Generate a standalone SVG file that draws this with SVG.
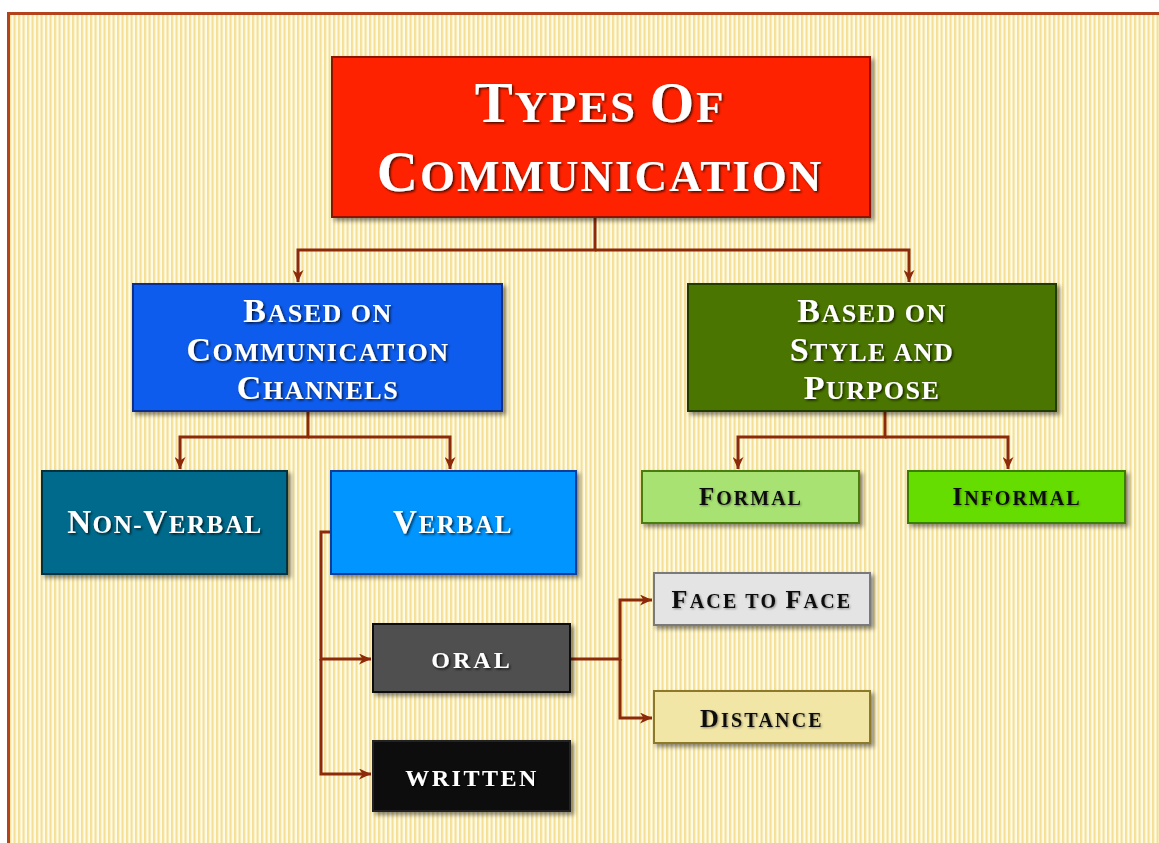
<svg xmlns="http://www.w3.org/2000/svg" width="1159" height="843" viewBox="0 0 1159 843">
<defs>
<pattern id="stripes" x="0" y="0" width="4.5" height="10" patternUnits="userSpaceOnUse">
<rect width="4.5" height="10" fill="#fffbe6"/>
<rect x="0" width="2.2" height="10" fill="#f3e096"/>
</pattern>
<filter id="bshadow" x="-10%" y="-10%" width="130%" height="140%">
<feDropShadow dx="3" dy="3" stdDeviation="2" flood-color="#000" flood-opacity="0.45"/>
</filter>
<filter id="tshadow" x="-5%" y="-20%" width="115%" height="150%">
<feDropShadow dx="1.5" dy="1.5" stdDeviation="1" flood-color="#000" flood-opacity="0.75"/>
</filter>
<filter id="tshadowl" x="-5%" y="-20%" width="115%" height="150%">
<feDropShadow dx="1" dy="1" stdDeviation="0.8" flood-color="#000" flood-opacity="0.4"/>
</filter>
<marker id="arr" markerWidth="13" markerHeight="11" refX="12" refY="5.5" orient="auto" markerUnits="userSpaceOnUse">
<path d="M0,0 L12,5.5 L0,11 L3.5,5.5 z" fill="#8c2a0a"/>
</marker>
<style>
.box{filter:url(#bshadow);stroke-width:2}
.t{font-family:"Liberation Serif","DejaVu Serif",serif;font-weight:bold;text-anchor:middle}
.w{fill:#fff;filter:url(#tshadow)}
.k{fill:#111;filter:url(#tshadowl)}
.c{fill:none;stroke:#8c2a0a;stroke-width:3}
</style>
</defs>
<rect width="1159" height="843" fill="#fff"/>
<rect x="8.5" y="13.5" width="1200" height="900" fill="url(#stripes)" stroke="#b3431a" stroke-width="3"/>

<g id="connectors">
<path class="c" d="M595,217 V250 H298 V282" marker-end="url(#arr)"/>
<path class="c" d="M595,250 H909 V282" marker-end="url(#arr)"/>
<path class="c" d="M308,411 V437 H180 V469" marker-end="url(#arr)"/>
<path class="c" d="M308,437 H450 V469" marker-end="url(#arr)"/>
<path class="c" d="M885,411 V437 H738 V469" marker-end="url(#arr)"/>
<path class="c" d="M885,437 H1008 V469" marker-end="url(#arr)"/>
<path class="c" d="M331,532 H321 V659 H371" marker-end="url(#arr)"/>
<path class="c" d="M321,659 V774 H371" marker-end="url(#arr)"/>
<path class="c" d="M570,659 H620 V600 H652" marker-end="url(#arr)"/>
<path class="c" d="M620,659 V718 H652" marker-end="url(#arr)"/>
</g>

<g id="title">
<rect class="box" x="332" y="57" width="538" height="160" fill="#ff2200" stroke="#8a1500"/>
<text class="t w" x="600" y="122" style="letter-spacing:1.8px"><tspan font-size="57">T</tspan><tspan font-size="45">YPES </tspan><tspan font-size="57">O</tspan><tspan font-size="45">F</tspan></text>
<text class="t w" x="600" y="191" style="letter-spacing:2px"><tspan font-size="57">C</tspan><tspan font-size="45">OMMUNICATION</tspan></text>
</g>

<g id="channels">
<rect class="box" x="133" y="284" width="369" height="127" fill="#0a5ced" stroke="#0a2f8a"/>
<text class="t w" x="318" y="322" style="letter-spacing:1.5px"><tspan font-size="34">B</tspan><tspan font-size="26">ASED ON</tspan></text>
<text class="t w" x="318" y="361" style="letter-spacing:1.5px"><tspan font-size="34">C</tspan><tspan font-size="26">OMMUNICATION</tspan></text>
<text class="t w" x="318" y="399" style="letter-spacing:1.5px"><tspan font-size="34">C</tspan><tspan font-size="26">HANNELS</tspan></text>
</g>

<g id="style">
<rect class="box" x="688" y="284" width="368" height="127" fill="#487500" stroke="#213a00"/>
<text class="t w" x="872" y="322" style="letter-spacing:1.5px"><tspan font-size="34">B</tspan><tspan font-size="26">ASED ON</tspan></text>
<text class="t w" x="872" y="361" style="letter-spacing:1.5px"><tspan font-size="34">S</tspan><tspan font-size="26">TYLE AND</tspan></text>
<text class="t w" x="872" y="399" style="letter-spacing:1.5px"><tspan font-size="34">P</tspan><tspan font-size="26">URPOSE</tspan></text>
</g>

<g id="nonverbal">
<rect class="box" x="42" y="471" width="245" height="103" fill="#006a8c" stroke="#03313f"/>
<text class="t w" x="165" y="533" style="letter-spacing:1.6px"><tspan font-size="33">N</tspan><tspan font-size="25">ON-</tspan><tspan font-size="33">V</tspan><tspan font-size="25">ERBAL</tspan></text>
</g>

<g id="verbal">
<rect class="box" x="331" y="471" width="245" height="103" fill="#0095ff" stroke="#0a3d9a"/>
<text class="t w" x="453" y="533" style="letter-spacing:1.7px"><tspan font-size="33">V</tspan><tspan font-size="25">ERBAL</tspan></text>
</g>

<g id="formal">
<rect class="box" x="642" y="471" width="217" height="52" fill="#a8e272" stroke="#4a7d10"/>
<text class="t k" x="751" y="505" style="letter-spacing:2px"><tspan font-size="25">F</tspan><tspan font-size="20">ORMAL</tspan></text>
</g>

<g id="informal">
<rect class="box" x="908" y="471" width="217" height="52" fill="#66dd00" stroke="#3a7d00"/>
<text class="t k" x="1017" y="505" style="letter-spacing:2px"><tspan font-size="25">I</tspan><tspan font-size="20">NFORMAL</tspan></text>
</g>

<g id="oral">
<rect class="box" x="373" y="624" width="197" height="68" fill="#505050" stroke="#111"/>
<text class="t w" x="472" y="668" font-size="24" style="letter-spacing:3px">ORAL</text>
</g>

<g id="written">
<rect class="box" x="373" y="741" width="197" height="70" fill="#080808" stroke="#222"/>
<text class="t w" x="472" y="786" font-size="24" style="letter-spacing:2.5px">WRITTEN</text>
</g>

<g id="facetoface">
<rect class="box" x="654" y="573" width="216" height="52" fill="#e4e4e4" stroke="#7a7a7a"/>
<text class="t k" x="762" y="608" style="letter-spacing:2.2px"><tspan font-size="26">F</tspan><tspan font-size="20">ACE TO </tspan><tspan font-size="26">F</tspan><tspan font-size="20">ACE</tspan></text>
</g>

<g id="distance">
<rect class="box" x="654" y="691" width="216" height="52" fill="#f2e6a6" stroke="#8c7a2c"/>
<text class="t k" x="762" y="727" style="letter-spacing:2.2px"><tspan font-size="26">D</tspan><tspan font-size="20">ISTANCE</tspan></text>
</g>
</svg>
